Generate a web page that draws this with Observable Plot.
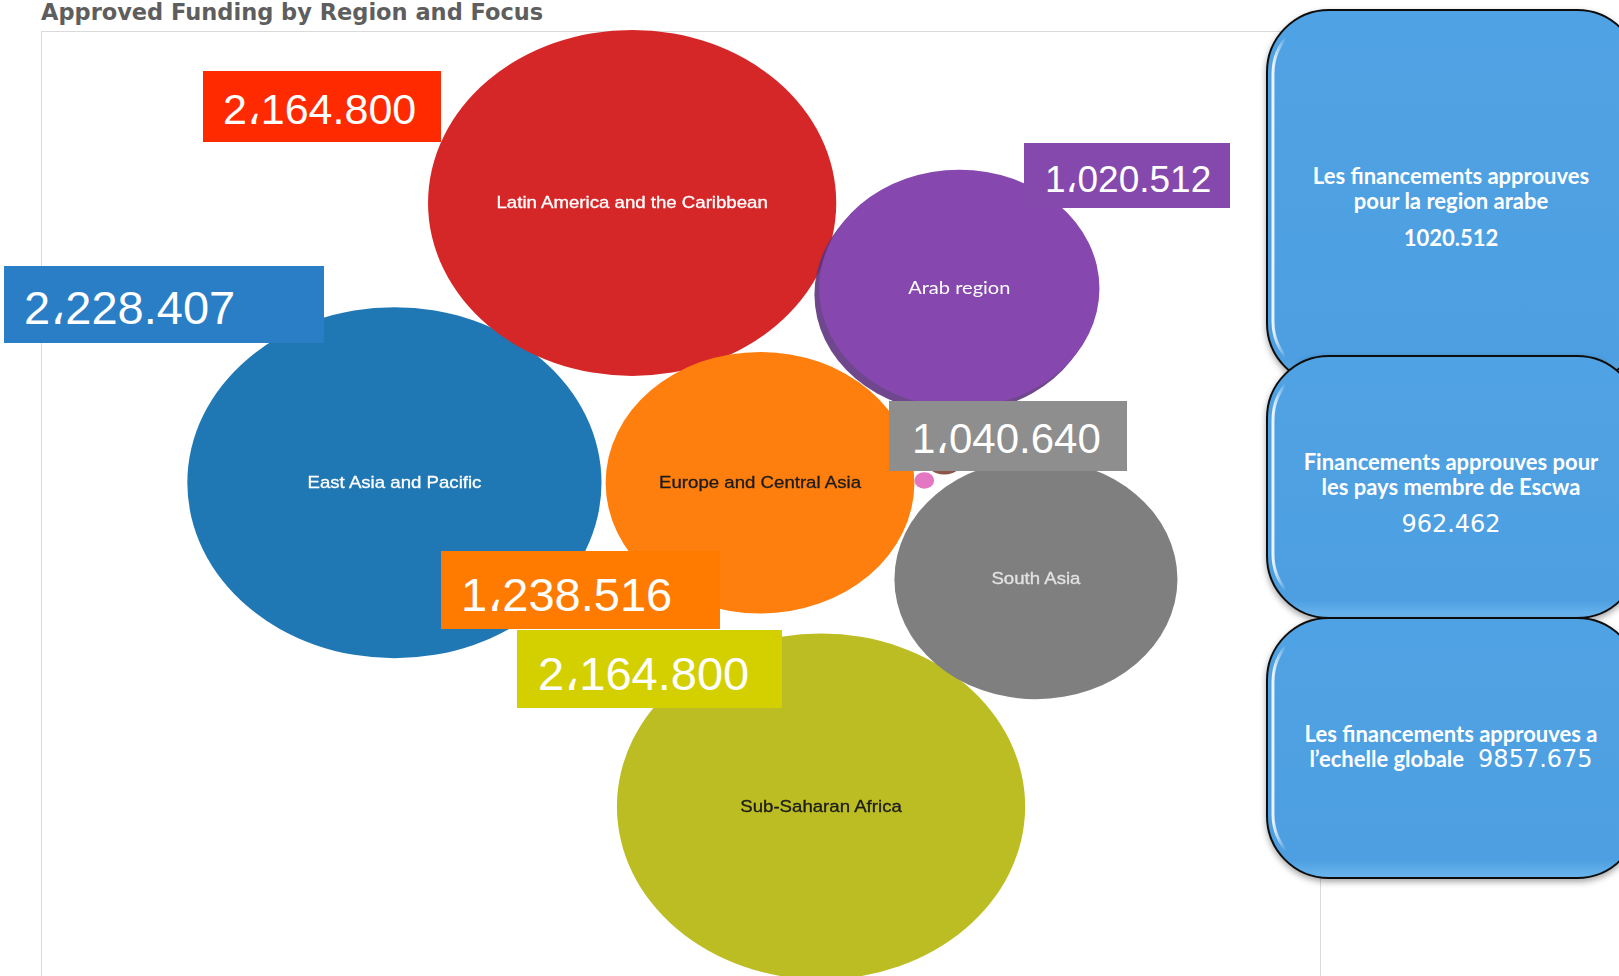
<!DOCTYPE html>
<html><head><meta charset="utf-8">
<script src="https://cdn.jsdelivr.net/npm/d3@7"></script>
<script src="https://cdn.jsdelivr.net/npm/@observablehq/plot@0.6"></script>
<style>
html,body{margin:0;padding:0;background:#fff;overflow:hidden;width:1619px;height:976px;}
#page{position:relative;width:1619px;height:976px;overflow:hidden;background:#fff;}
#title{position:absolute;left:41px;top:1px;font:bold 22.5px/23px "DejaVu Sans",sans-serif;color:#5e5e5e;white-space:nowrap;}
#frame{position:absolute;left:41px;top:31px;width:1280px;height:1000px;border:1px solid #dadada;box-sizing:border-box;}
#stretch{position:absolute;left:0;top:0;width:1380px;height:976px;transform:scaleX(1.18);transform-origin:0 0;}
#chart{position:absolute;left:34.7px;top:31px;width:1086px;height:945px;}
#chart svg{max-width:none !important;overflow:visible;}
#overlay{position:absolute;left:0;top:0;}
</style></head>
<body>
<div id="page">
  <div id="title"></div>
  <div id="frame"></div>
  <div id="stretch"><div id="chart"></div></div>
  <svg id="overlay" width="1619" height="976"></svg>
</div>
<script>
// ---------- data ----------
const regions = ["Latin America and the Caribbean", "Arab region", "East Asia and Pacific", "Europe and Central Asia", "South Asia", "Sub-Saharan Africa"];
const funding = [2164.8, 1020.512, 2228.407, 1238.516, 1040.64, 2164.8];      // approved funding (thousands)
const labelValues = [2164.8, 1020.512, 2228.407, 1238.516, 1040.64, 2164.8];  // values shown in the call-out boxes
const minorFunding = [21, 5];                                                 // two small unlabeled bubbles
const summaryTexts = [
  ["Les financements approuves", "pour la region arabe"],
  ["Financements approuves pour", "les pays membre de Escwa"],
  ["Les financements approuves a", "l\u2019echelle globale"]
];
const summaryValues = [1020.512, 962.462, 9857.675];
const chartTitle = "Approved Funding by Region and Focus";

// ---------- layout (bubble centres, in % of plot area) ----------
const layoutX = [46.06, 71.59, 27.51, 56.04, 77.57, 60.80];
const layoutY = [18.14, 27.2, 47.75, 47.75, 57.96, 82.01];
const minorLayoutX = [70.42, 68.86];
const minorLayoutY = [45.08, 47.51];

// ---------- styles ----------
const bubbleColors = ["#d62728", "#8648ae", "#1f77b4", "#ff7f0e", "#7f7f7f", "#bcbd22"];
const minorColors = ["#8c564b", "#e377c2"];
const bubbleTextColors = ["#ffffff", "#ffffff", "#ffffff", "#1b1b1b", "#e2e2e2", "#1b1b1b"];

document.getElementById("title").textContent = chartTitle;

const bubbles = regions.map((name, i) => ({name, value: funding[i], lx: layoutX[i], ly: layoutY[i], color: bubbleColors[i], textColor: bubbleTextColors[i]}));
const minors = minorFunding.map((v, i) => ({name: "", value: v, lx: minorLayoutX[i], ly: minorLayoutY[i], color: minorColors[i], textColor: "none"}));
const google = bubbles.filter(d => d.name !== "Arab region");
const arab = bubbles.filter(d => d.name === "Arab region");

const chart = Plot.plot({
  width: 1086, height: 945, margin: 0,
  x: {domain: [0, 100], axis: null},
  y: {domain: [0, 100], range: [0, 945], axis: null},
  r: {type: "sqrt", domain: [0, d3.max(funding)], range: [0, 175.5]},
  color: {type: "identity"},
  style: {overflow: "visible", background: "transparent", maxWidth: "none"},
  marks: [
    Plot.dot(google.concat(minors), {x: "lx", y: "ly", r: "value", fill: "color"}),
    Plot.dot(arab, {x: "lx", y: "ly", r: "value", fill: "#5f3380", fillOpacity: 0.9, dx: -4, dy: 6}),
    Plot.dot(arab, {x: "lx", y: "ly", r: "value", fill: "color"}),
    Plot.text(google, {x: "lx", y: "ly", text: "name", fill: "textColor", stroke: "textColor", strokeWidth: 0.3,
      fontFamily: "Liberation Sans, Arial, sans-serif", fontSize: 15.8}),
    Plot.text(arab, {x: "lx", y: "ly", text: "name", fill: "textColor", fontFamily: "Lato, sans-serif", fontSize: 17})
  ]
});
document.getElementById("chart").appendChild(chart);

// ---------- overlay call-outs ----------
const fmt = d3.formatLocale({decimal: ".", thousands: "\u060C", grouping: [3], currency: ["", ""]}).format(",.3f");
const labelLayout = [
  {x: 203, y: 71,  w: 238, h: 71, tx: 223, ty: 124, fs: 43, fill: "#ff2a00"},
  {x: 1024, y: 143, w: 206, h: 65, tx: 1045, ty: 192, fs: 37, fill: "#8549ad"},
  {x: 4,   y: 266, w: 320, h: 77, tx: 24,  ty: 324, fs: 47, fill: "#2a7ec5"},
  {x: 441, y: 551, w: 279, h: 78, tx: 461, ty: 611, fs: 47, fill: "#ff7b00"},
  {x: 889, y: 401, w: 238, h: 70, tx: 912, ty: 453, fs: 42, fill: "#8e8e8e"},
  {x: 517, y: 630, w: 265, h: 78, tx: 538, ty: 690, fs: 47, fill: "#d4d000"}
];
const svg = d3.select("#overlay");
const defs = svg.append("defs");
const gloss = defs.append("linearGradient").attr("id", "gloss").attr("x1", 0).attr("x2", 1).attr("y1", 0).attr("y2", 0);
gloss.append("stop").attr("offset", 0).attr("stop-color", "#fff").attr("stop-opacity", 0.9);
gloss.append("stop").attr("offset", 0.035).attr("stop-color", "#fff").attr("stop-opacity", 0);
const vgrad = defs.append("linearGradient").attr("id", "vgrad").attr("x1", 0).attr("x2", 0).attr("y1", 0).attr("y2", 1);
vgrad.append("stop").attr("offset", 0).attr("stop-color", "#50a2e3");
vgrad.append("stop").attr("offset", 0.93).attr("stop-color", "#4d9fe1");
vgrad.append("stop").attr("offset", 1).attr("stop-color", "#6cb6ef");
const shadow = defs.append("filter").attr("id", "shadow").attr("x", "-10%").attr("y", "-10%").attr("width", "130%").attr("height", "130%");
shadow.append("feDropShadow").attr("dx", 0).attr("dy", 3).attr("stdDeviation", 3).attr("flood-opacity", 0.35);

labelLayout.forEach((b, i) => {
  svg.append("rect").attr("x", b.x).attr("y", b.y).attr("width", b.w).attr("height", b.h).attr("fill", b.fill);
  svg.append("text").attr("x", b.tx).attr("y", b.ty).attr("fill", "#fff")
    .attr("font-family", "Liberation Sans, DejaVu Sans, Arial, sans-serif").attr("font-size", b.fs)
    .text(fmt(labelValues[i]));
});

const boxLayout = [
  {y: 10, h: 375, lines: [184, 209], num: 246},
  {y: 356, h: 262, lines: [470, 495], num: 532},
  {y: 618, h: 260, lines: [742, 767], num: null}
];
const boxX = 1267, boxW = 372, cx = 1451;
boxLayout.forEach((b, i) => {
  const g = svg.append("g");
  g.append("rect").attr("x", boxX).attr("y", b.y).attr("width", boxW).attr("height", b.h).attr("rx", 62).attr("ry", 62)
    .attr("fill", "url(#vgrad)").attr("stroke", "#111").attr("stroke-width", 2).attr("filter", "url(#shadow)");
  g.append("rect").attr("x", boxX + 6).attr("y", b.y + 8).attr("width", boxW - 12).attr("height", b.h - 16).attr("rx", 56).attr("ry", 56)
    .attr("fill", "none").attr("stroke", "url(#gloss)").attr("stroke-width", 3);
  g.append("text").attr("x", cx).attr("y", b.lines[0]).attr("text-anchor", "middle").attr("fill", "#fff")
    .attr("font-family", "Lato, sans-serif").attr("font-weight", "bold").attr("font-size", 22).text(summaryTexts[i][0]);
  const t2 = g.append("text").attr("x", cx).attr("y", b.lines[1]).attr("text-anchor", "middle").attr("fill", "#fff")
    .attr("font-family", "Lato, sans-serif").attr("font-weight", "bold").attr("font-size", 22);
  t2.append("tspan").text(summaryTexts[i][1]);
  if (b.num === null) {
    t2.append("tspan").attr("dx", 14).attr("font-family", "DejaVu Sans, sans-serif").attr("font-weight", "normal").attr("font-size", 24)
      .text(d3.format(".3f")(summaryValues[i]));
  } else {
    g.append("text").attr("x", cx).attr("y", b.num).attr("text-anchor", "middle").attr("fill", "#fff")
      .attr("font-family", i === 0 ? "Lato, sans-serif" : "DejaVu Sans, sans-serif")
      .attr("font-weight", i === 0 ? "bold" : "normal").attr("font-size", i === 0 ? 22 : 24)
      .text(d3.format(".3f")(summaryValues[i]));
  }
});
</script>
</body></html>
